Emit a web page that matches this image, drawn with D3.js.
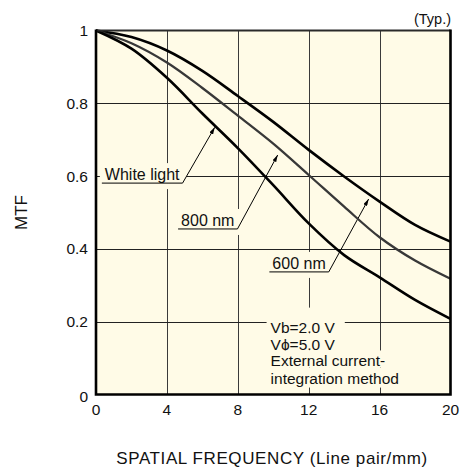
<!DOCTYPE html>
<html>
<head>
<meta charset="utf-8">
<script src="https://cdn.jsdelivr.net/npm/d3@7/dist/d3.min.js"></script>
<style>
    body { margin: 0; background: #fff; }
    svg text { font-family: "Liberation Sans", Arial, Helvetica, sans-serif; fill: #111; }
</style>
</head>
<body>
<div id="mtf-chart"></div>
<script>
// spatial frequency (line pair/mm)
var freq = [0, 2, 4, 6, 8, 10, 12, 14, 16, 18, 20];
// MTF
var mtf600 = [1, 0.982, 0.945, 0.889, 0.82, 0.749, 0.672, 0.599, 0.53, 0.466, 0.42];
var mtf800 = [1, 0.965, 0.912, 0.842, 0.766, 0.689, 0.603, 0.516, 0.432, 0.368, 0.318];
var mtfWhite = [1, 0.95, 0.87, 0.772, 0.677, 0.575, 0.47, 0.383, 0.322, 0.26, 0.208];

var xTicks = [0, 4, 8, 12, 16, 20];
var yTicks = [0, 0.2, 0.4, 0.6, 0.8, 1];
var yTickLabels = ["0", "0.2", "0.4", "0.6", "0.8", "1"];

var seriesNames = ["600 nm", "800 nm", "White light"];
var conditionLines = ["Vb=2.0 V", "V\u03D5=5.0 V", "External current-", "integration method"];

/*
 * MtfChart
 */
MtfChart = function(_parentElement) {
    var vis = this;
    vis.parentElement = _parentElement;
    vis.initVis();
};

MtfChart.prototype.initVis = function() {
    var vis = this;
    vis.totalWidth = 460;
    vis.totalHeight = 470;

    vis.svg = d3.select("#" + vis.parentElement).append("svg")
        .attr("width", vis.totalWidth)
        .attr("height", vis.totalHeight);

    // scales
    vis.x = d3.scaleLinear().domain([0, 20]).range([96, 450.5]);
    vis.y = d3.scaleLinear().domain([0, 1]).range([394.5, 30.5]);

    vis.linePath = d3.line()
        .curve(d3.curveCatmullRom.alpha(0.5))
        .x(function(d) { return vis.x(d.f); })
        .y(function(d) { return vis.y(d.v); });

    // plot background
    vis.svg.append("rect")
        .attr("x", vis.x(0))
        .attr("y", vis.y(1))
        .attr("width", vis.x(20) - vis.x(0))
        .attr("height", vis.y(0) - vis.y(1))
        .attr("fill", "#fffbe7");

    // grid
    vis.svg.append("g").attr("class", "grid-x")
        .selectAll("line")
        .data(xTicks.slice(1, -1))
        .enter().append("line")
        .attr("x1", function(d) { return Math.round(vis.x(d)) + 0.5; })
        .attr("x2", function(d) { return Math.round(vis.x(d)) + 0.5; })
        .attr("y1", vis.y(1))
        .attr("y2", vis.y(0))
        .attr("stroke", "#3a3a3a")
        .attr("stroke-width", 1);

    vis.svg.append("g").attr("class", "grid-y")
        .selectAll("line")
        .data(yTicks.slice(1, -1))
        .enter().append("line")
        .attr("x1", vis.x(0))
        .attr("x2", vis.x(20))
        .attr("y1", function(d) { return Math.round(vis.y(d)) + 0.5; })
        .attr("y2", function(d) { return Math.round(vis.y(d)) + 0.5; })
        .attr("stroke", "#222")
        .attr("stroke-width", 1);

    vis.labelLayer = vis.svg.append("g").attr("class", "labels");
    vis.curveLayer = vis.svg.append("g").attr("class", "curves");

    // frame
    vis.svg.append("line")
        .attr("x1", vis.x(0)).attr("x2", vis.x(20))
        .attr("y1", vis.y(1)).attr("y2", vis.y(1))
        .attr("stroke", "#2a2a2a").attr("stroke-width", 2);
    vis.svg.append("path")
        .attr("d", "M" + vis.x(0) + "," + (vis.y(1) - 1) + "V" + vis.y(0) + "H" + vis.x(20) + "V" + (vis.y(1) - 1))
        .attr("fill", "none")
        .attr("stroke", "#000")
        .attr("stroke-width", 2.6);

    // tick labels
    vis.svg.append("g").attr("class", "y-labels")
        .selectAll("text")
        .data(yTicks)
        .enter().append("text")
        .attr("x", 88)
        .attr("y", function(d) { return vis.y(d); })
        .attr("dy", function(d) { return d === 0 ? "0.5em" : "0.36em"; })
        .attr("text-anchor", "end")
        .attr("font-size", 15.5)
        .text(function(d, i) { return yTickLabels[i]; });

    vis.svg.append("g").attr("class", "x-labels")
        .selectAll("text")
        .data(xTicks)
        .enter().append("text")
        .attr("x", function(d) { return vis.x(d); })
        .attr("y", 415)
        .attr("text-anchor", "middle")
        .attr("font-size", 15.5)
        .text(function(d) { return d; });

    // axis titles
    vis.svg.append("text")
        .attr("x", 272)
        .attr("y", 464)
        .attr("text-anchor", "middle")
        .attr("font-size", 17)
        .attr("letter-spacing", 0.6)
        .text("SPATIAL FREQUENCY (Line pair/mm)");

    vis.svg.append("text")
        .attr("transform", "translate(27," + ((vis.y(0) + vis.y(1)) / 2) + ") rotate(-90)")
        .attr("text-anchor", "middle")
        .attr("font-size", 17)
        .text("MTF");

    vis.svg.append("text")
        .attr("x", 451)
        .attr("y", 24)
        .attr("text-anchor", "end")
        .attr("font-size", 14.5)
        .text("(Typ.)");

    // arrow head for the leader lines
    vis.svg.append("defs").append("marker")
        .attr("id", "arrow")
        .attr("viewBox", "0 0 10 6")
        .attr("refX", 10).attr("refY", 3)
        .attr("markerWidth", 7).attr("markerHeight", 4.2)
        .attr("markerUnits", "userSpaceOnUse")
        .attr("orient", "auto")
        .append("path")
        .attr("d", "M0,0L10,3L0,6Z")
        .attr("fill", "#000");

    vis.wrangleData();
};

MtfChart.prototype.wrangleData = function() {
    var vis = this;
    var all = [mtf600, mtf800, mtfWhite];
    vis.displayData = seriesNames.map(function(name, i) {
        return {
            name: name,
            values: freq.map(function(f, j) { return { f: f, v: all[i][j] }; })
        };
    });
    vis.updateVis();
};

MtfChart.prototype.updateVis = function() {
    var vis = this;

    // callout placement: text start, text baseline, arrow tip (data units)
    var callouts = {
        "White light": { tx: 0.5, ty: 0.589, tipX: 6.7, tipY: 0.734 },
        "800 nm": { tx: 4.8, ty: 0.463, tipX: 10.25, tipY: 0.658 },
        "600 nm": { tx: 9.95, ty: 0.345, tipX: 15.38, tipY: 0.537 }
    };
    var styles = {
        "600 nm": { color: "#000", width: 2.6 },
        "800 nm": { color: "#383838", width: 2.3 },
        "White light": { color: "#000", width: 2.6 }
    };

    vis.displayData.forEach(function(s) {
        var c = callouts[s.name];
        var bx = vis.x(c.tx), by = vis.y(c.ty);
        var bgRect = vis.labelLayer.append("rect").attr("fill", "#fffbe7");
        var t = vis.labelLayer.append("text")
            .attr("x", bx)
            .attr("y", by)
            .attr("font-size", 16)
            .text(s.name);
        var w = t.node().getComputedTextLength();
        var u0 = bx - 3, u1 = bx + w + 3, uy = by + 3;
        bgRect.attr("x", u0 - 2).attr("y", by - 17)
            .attr("width", u1 - u0 + 6).attr("height", 26);
        vis.labelLayer.append("line")
            .attr("x1", u0).attr("x2", u1)
            .attr("y1", uy).attr("y2", uy)
            .attr("stroke", "#000").attr("stroke-width", 1);
        vis.labelLayer.append("line")
            .attr("x1", u1).attr("y1", uy)
            .attr("x2", vis.x(c.tipX)).attr("y2", vis.y(c.tipY))
            .attr("stroke", "#000").attr("stroke-width", 1)
            .attr("marker-end", "url(#arrow)");

        vis.curveLayer.append("path")
            .datum(s.values)
            .attr("class", "linepath")
            .attr("fill", "none")
            .attr("stroke", styles[s.name].color)
            .attr("stroke-width", styles[s.name].width)
            .attr("stroke-linejoin", "round")
            .attr("d", vis.linePath);
    });

    // measurement conditions block
    var cx = vis.x(9.85);
    var baselines = [0.170, 0.123, 0.077, 0.030];
    conditionLines.forEach(function(line, i) {
        var by = vis.y(baselines[i]);
        var bg = vis.labelLayer.append("rect").attr("fill", "#fffbe7");
        var t = vis.labelLayer.append("text")
            .attr("x", cx)
            .attr("y", by)
            .attr("font-size", 15.5)
            .text(line);
        var w = t.node().getComputedTextLength();
        var top = i === 0 ? by - 25 : by - 16;
        var bottom = i === conditionLines.length - 1 ? by + 4 : by + 1;
        bg.attr("x", cx - 4).attr("y", top)
            .attr("width", w + (i < 2 ? 14 : 4)).attr("height", bottom - top);
    });
};

var mtfChart = new MtfChart("mtf-chart");
</script>
</body>
</html>
